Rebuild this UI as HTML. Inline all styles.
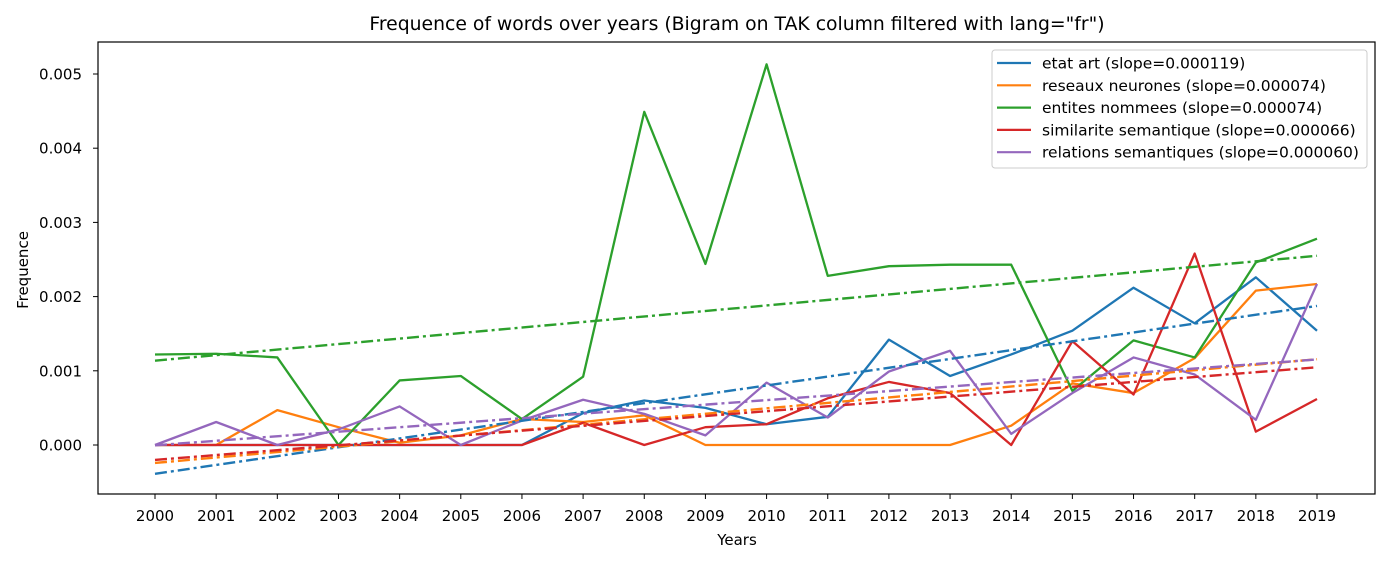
<!DOCTYPE html>
<html><head><meta charset="utf-8"><style>
body{margin:0;background:#fff;font-family:"Liberation Sans","DejaVu Sans",sans-serif}
</style></head><body>
<svg id="chart" width="1391" height="563" xmlns="http://www.w3.org/2000/svg" font-family="DejaVu Sans, Liberation Sans, sans-serif"></svg>
<script>
const years=[2000,2001,2002,2003,2004,2005,2006,2007,2008,2009,2010,2011,2012,2013,2014,2015,2016,2017,2018,2019];
const yTicks=[0,0.001,0.002,0.003,0.004,0.005];
const seriesNames=["etat art (slope=0.000119)","reseaux neurones (slope=0.000074)","entites nommees (slope=0.000074)","similarite semantique (slope=0.000066)","relations semantiques (slope=0.000060)"];
const etatArt=[0,0,0,0,0,0,0,0.00043,0.0006,0.0005,0.00028,0.00038,0.00142,0.00093,0.00122,0.00154,0.00212,0.00164,0.00226,0.00154];
const reseauxNeurones=[0,0,0.00047,0.00024,0.00003,0.00013,0.00035,0.00031,0.0004,0,0,0,0,0,0.00026,0.00083,0.0007,0.00117,0.00208,0.00217];
const entitesNommees=[0.00122,0.00123,0.00118,0,0.00087,0.00093,0.00035,0.00092,0.00449,0.00244,0.00513,0.00228,0.00241,0.00243,0.00243,0.00073,0.00141,0.00118,0.00246,0.00278];
const similariteSemantique=[0,0,0,0,0,0,0,0.0003,0,0.00024,0.00028,0.00063,0.00085,0.0007,0,0.0014,0.00068,0.00258,0.00018,0.00062];
const relationsSemantiques=[0,0.00031,0,0.00021,0.00052,0,0.00033,0.00061,0.00042,0.00013,0.00084,0.00037,0.00099,0.00127,0.00015,0.0007,0.00118,0.00095,0.00034,0.00217];
const allSeries=[etatArt,reseauxNeurones,entitesNommees,similariteSemantique,relationsSemantiques];
const colors=["#1f77b4","#ff7f0e","#2ca02c","#d62728","#9467bd"];
const NS="http://www.w3.org/2000/svg";
const svg=document.getElementById('chart');
const L=98,R=1375,T=42,B=494;
const x=i=>155+(1317-155)*(i/(years.length-1));
const y=v=>445-v/0.001*74.2;
function mk(tag,attrs,parent){const e=document.createElementNS(NS,tag);for(const k in attrs)e.setAttribute(k,attrs[k]);(parent||svg).appendChild(e);return e;}
const title=mk('text',{x:737,y:30,'text-anchor':'middle','font-size':18.8});
title.textContent='Frequence of words over years (Bigram on TAK column filtered with lang="fr")';


years.forEach((yr,i)=>{
 const t=mk('line',{x1:x(i),x2:x(i),y1:B,y2:B+5,stroke:'#000','stroke-width':1});
 
 
 const lb=mk('text',{x:x(i),y:B+27,'text-anchor':'middle','font-size':15});
 lb.textContent=yr;
 
 
});
yTicks.forEach(v=>{
 const t=mk('line',{x1:L-5,x2:L,y1:y(v),y2:y(v),stroke:'#000','stroke-width':1});
 
 
 const lb=mk('text',{x:L-16,y:y(v)+5.5,'text-anchor':'end','font-size':15});
 lb.textContent=v.toFixed(3);
 
 
});
const xl=mk('text',{x:737,y:545,'text-anchor':'middle','font-size':15});
xl.textContent='Years';


const yl=mk('text',{x:28,y:270,'text-anchor':'middle','font-size':15,transform:'rotate(-90 28 270)'});
yl.textContent='Frequence';


const clip=mk('clipPath',{id:'pc'});mk('rect',{x:L,y:T,width:R-L,height:B-T},clip);
const g=mk('g',{'clip-path':'url(#pc)'});
allSeries.forEach((s,k)=>{
 const p=mk('polyline',{points:s.map((v,i)=>x(i)+','+y(v)).join(' '),fill:'none',stroke:colors[k],'stroke-width':2.3,'stroke-linejoin':'round'},g);
 
 
});
allSeries.forEach((s,k)=>{
 const n=s.length;let mx=0,my=0;for(let i=0;i<n;i++){mx+=i;my+=s[i];}mx/=n;my/=n;
 let sxy=0,sxx=0;for(let i=0;i<n;i++){sxy+=(i-mx)*(s[i]-my);sxx+=(i-mx)*(i-mx);}
 const m=sxy/sxx,b=my-m*mx;
 const p=mk('line',{x1:x(0),y1:y(b),x2:x(n-1),y2:y(b+m*(n-1)),stroke:colors[k],'stroke-width':2.4,'stroke-dasharray':'12 4 3 4'},g);
 
 
});
const frame=mk('rect',{x:L,y:T,width:R-L,height:B-T,fill:'none',stroke:'#000','stroke-width':1.2});


const lg=mk('g',{});


mk('rect',{x:992,y:50,width:375,height:118,rx:3,fill:'#fff','fill-opacity':0.85,stroke:'#ccc'},lg);
seriesNames.forEach((nm,k)=>{
 const yy=63+k*22.3;
 const ln=mk('line',{x1:997,x2:1031,y1:yy,y2:yy,stroke:colors[k],'stroke-width':2.2},lg);
 
 
 const t=mk('text',{x:1042,y:yy+5.5,'font-size':15.5},lg);
 t.textContent=nm;
 
 
});
</script>
</body></html>
